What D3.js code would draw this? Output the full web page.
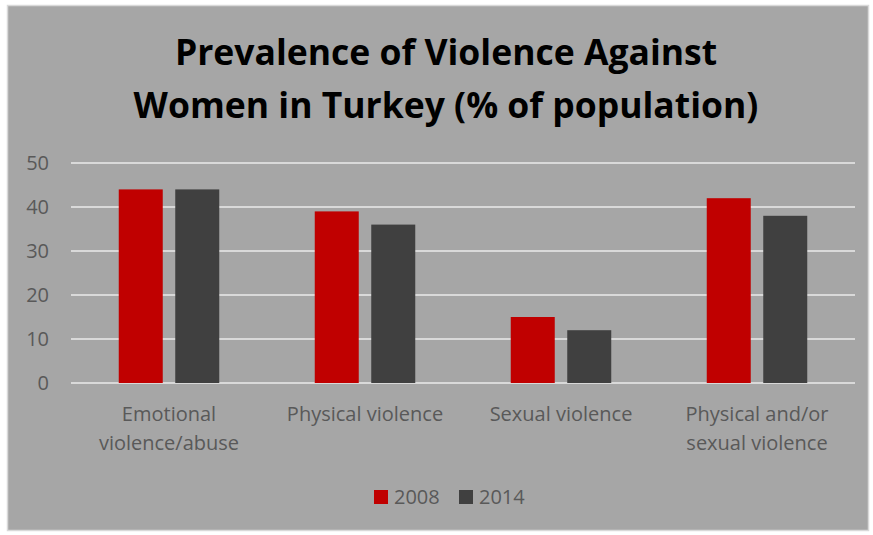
<!DOCTYPE html>
<html>
<head>
<meta charset="utf-8">
<script src="https://cdn.jsdelivr.net/npm/d3@7"></script>
<style>
  body { margin: 0; background: #fff; }
  text { font-family: "Open Sans", "Noto Sans", sans-serif; }
</style>
</head>
<body>
<div id="chart"></div>
<script>
const categories = [
  ['Emotional', 'violence/abuse'],
  ['Physical violence'],
  ['Sexual violence'],
  ['Physical and/or', 'sexual violence']
]
const series = ['2008', '2014']
const values2008 = [44, 39, 15, 42]
const values2014 = [44, 36, 12, 38]
const yTicks = [0, 10, 20, 30, 40, 50]
const colors = ['#c00000', '#404040']

const W = 873, H = 535
const svg = d3.select('#chart').append('svg').attr('width', W).attr('height', H)

// chart area background
svg.append('rect').attr('x', 7.5).attr('y', 5.5).attr('width', 861).attr('height', 525)
  .attr('fill', '#a6a6a6').attr('stroke', '#d9d9d9').attr('stroke-width', 1.5)

// title
const title = svg.append('text').attr('text-anchor', 'middle').attr('font-weight', 'bold')
  .attr('font-size', 35.5).attr('fill', '#000')
title.append('tspan').attr('x', 446).attr('y', 65).text('Prevalence of Violence Against')
title.append('tspan').attr('x', 446).attr('y', 118).text('Women in Turkey (% of population)')

const x = d3.scaleBand().domain(d3.range(categories.length)).range([71, 855])
const y = d3.scaleLinear().domain([0, 50]).range([383, 163])

// gridlines
svg.append('g').selectAll('line').data(yTicks).enter().append('line')
  .attr('x1', 71).attr('x2', 855)
  .attr('y1', d => y(d)).attr('y2', d => y(d))
  .attr('stroke', '#d9d9d9').attr('stroke-width', 2)

// y labels
svg.append('g').selectAll('text').data(yTicks).enter().append('text')
  .attr('x', 49).attr('y', d => y(d) + 7)
  .attr('text-anchor', 'end').attr('font-size', 20).attr('fill', '#595959')
  .text(d => d)

// bars
const barW = 44, gap = 12.5
const data = categories.map((c, i) => [values2008[i], values2014[i]])
const groups = svg.append('g').selectAll('g').data(data).enter().append('g')
groups.selectAll('rect').data(d => d).enter().append('rect')
  .attr('x', function(d, j) {
    const i = d3.select(this.parentNode).datum()
    const cx = x(data.indexOf(i)) + x.bandwidth() / 2
    return j === 0 ? cx - gap / 2 - barW : cx + gap / 2
  })
  .attr('y', d => y(d))
  .attr('width', barW)
  .attr('height', d => y(0) - y(d))
  .attr('fill', (d, j) => colors[j])

// category labels
const cat = svg.append('g').selectAll('text').data(categories).enter().append('text')
  .attr('text-anchor', 'middle').attr('font-size', 20).attr('fill', '#595959')
cat.selectAll('tspan').data((d, i) => d.map(t => ({t, i}))).enter().append('tspan')
  .attr('x', d => x(d.i) + x.bandwidth() / 2)
  .attr('y', (d, k) => 421 + k * 29)
  .text(d => d.t)

// legend
const legend = svg.append('g')
const legX = [374, 459]
series.forEach((s, j) => {
  legend.append('rect').attr('x', legX[j]).attr('y', 490).attr('width', 14).attr('height', 14)
    .attr('fill', colors[j])
  legend.append('text').attr('x', legX[j] + 20).attr('y', 504)
    .attr('font-size', 20).attr('fill', '#595959').text(s)
})
</script>
</body>
</html>
